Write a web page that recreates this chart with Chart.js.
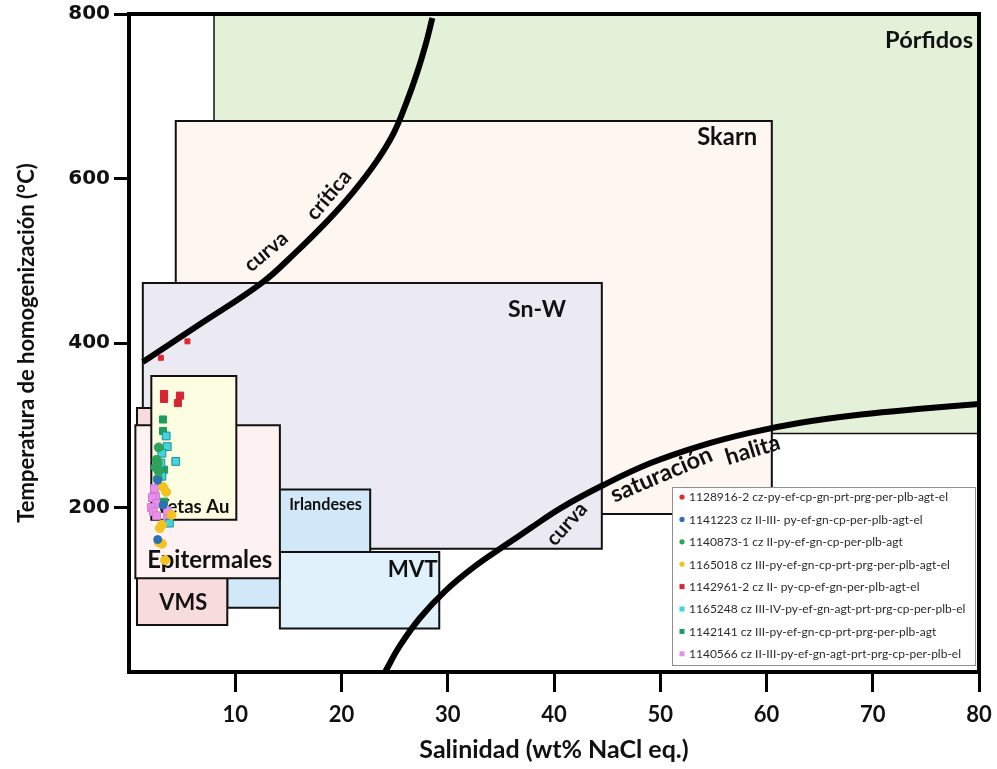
<!DOCTYPE html>
<html>
<head>
<meta charset="utf-8">
<script src="https://cdn.jsdelivr.net/npm/chart.js@4.4.1/dist/chart.umd.min.js"></script>
<style>
  html, body { margin: 0; padding: 0; background: #fff; }
  #wrap { width: 997px; height: 769px; }
</style>
</head>
<body>
<div id="wrap"><canvas id="chart" width="997" height="769"></canvas></div>
<script>
// ---- axis ticks ----
const xTickValues = [10, 20, 30, 40, 50, 60, 70, 80];
const yTickValues = [200, 400, 600, 800];

// ---- deposit fields: [salinity min, salinity max, Th min, Th max] ----
const fieldNames = ['Pórfidos', 'Skarn', 'Sn-W', 'Irlandeses', 'MVT', 'VMS', 'Epitermales', 'Vetas Au'];
const fieldBounds = [
  [8.0, 80, 290, 800],
  [4.4, 60.5, 192, 670],
  [1.3, 44.5, 150, 473],
  [9.25, 22.7, 78, 222],
  [14.2, 29.2, 53, 146],
  [0.75, 9.25, 57, 321],
  [0.6, 14.2, 114, 300],
  [2.1, 10.1, 185, 360]
];

// ---- reference curves ----
const criticaSal = [1.3, 6.7, 12.5, 15.6, 18.5, 21.0, 23.2, 24.9, 26.1, 27.1, 27.9, 28.55];
const criticaTh  = [377, 423, 473, 509, 546, 582, 619, 655, 692, 728, 762, 795];
const halitaSal  = [24.1, 25.5, 27.4, 29.8, 32.6, 35.4, 37.8, 40.6, 44.6, 49.1, 53.8, 58.5, 63.2, 68.9, 74.5, 80.2];
const halitaTh   = [0, 32, 66, 99, 129, 154, 175, 199, 227, 254, 275, 291, 303, 313, 320, 326];

// ---- fluid inclusion samples: [salinity, Th] ----
const seriesNames = [
  '1128916-2 cz-py-ef-cp-gn-prt-prg-per-plb-agt-el',
  '1141223 cz II-III- py-ef-gn-cp-per-plb-agt-el',
  '1140873-1 cz II-py-ef-gn-cp-per-plb-agt',
  '1165018 cz III-py-ef-gn-cp-prt-prg-per-plb-agt-el',
  '1142961-2 cz II- py-cp-ef-gn-per-plb-agt-el',
  '1165248 cz III-IV-py-ef-gn-agt-prt-prg-cp-per-plb-el',
  '1142141 cz III-py-ef-gn-cp-prt-prg-per-plb-agt',
  '1140566 cz II-III-py-ef-gn-agt-prt-prg-cp-per-plb-el'
];
const pts1128916 = [[3.0, 382], [5.5, 402]];
const pts1141223 = [[2.7, 233], [3.2, 203], [2.7, 161]];
const pts1140873 = [[2.8, 273], [2.6, 258], [2.7, 254], [2.5, 249], [2.8, 244], [2.7, 235]];
const pts1165018 = [[3.2, 225], [3.5, 219], [4.0, 191], [3.1, 179], [2.9, 175], [2.8, 158], [3.1, 156], [3.4, 136]];
const pts1142961 = [[3.3, 338], [3.3, 332], [4.8, 336], [4.6, 327]];
const pts1165248 = [[3.5, 287], [3.6, 274], [3.1, 266], [4.4, 256], [3.0, 254], [3.1, 238], [3.8, 181]];
const pts1142141 = [[3.2, 307], [3.2, 293], [3.3, 246], [3.3, 207]];
const pts1140566 = [[2.4, 223], [2.5, 213], [2.2, 212], [2.6, 205], [2.1, 200], [2.3, 195], [3.6, 196], [2.6, 190], [3.6, 186]];
const seriesPoints = [pts1128916, pts1141223, pts1140873, pts1165018, pts1142961, pts1165248, pts1142141, pts1140566];

// ---- styles ----
const fieldFill = ['#e3f1d9', '#fdf6f1', '#ebe9f2', '#d2e8f8', '#e0f1fb', '#f8dcdd', '#fdf1f1', '#fdfde2'];
const fieldLine = [1.5, 2, 2, 2, 2, 2, 2, 2];
const seriesStyle = [
  { shape: 'rect',   r: 3.5, fill: '#dc2a30', line: '#dc2a30', legend: 'circle' },
  { shape: 'circle', r: 4,   fill: '#2f70b4', line: '#2f70b4', legend: 'circle' },
  { shape: 'circle', r: 4.5, fill: '#2ea35c', line: '#2ea35c', legend: 'circle' },
  { shape: 'circle', r: 4.5, fill: '#f2c21e', line: '#f2c21e', legend: 'circle' },
  { shape: 'rect',   r: 5,   fill: '#d6262f', line: '#d6262f', legend: 'rect' },
  { shape: 'rect',   r: 5.5, fill: '#45d4dc', line: '#1d8f97', legend: 'rect' },
  { shape: 'rect',   r: 5,   fill: '#1e9b5d', line: '#1e9b5d', legend: 'rect' },
  { shape: 'rect',   r: 5.5, fill: '#e88fe9', line: '#d27ad6', legend: 'rect' }
];

// labels: text, salinity, Th, target width (px), rotation (deg)
const textLabels = [
  ['Pórfidos',    75.3, 768, 88, 0],
  ['Skarn',       56.3, 650, 60, 0],
  ['Sn-W',        38.4, 441, 58, 0],
  ['Irlandeses',  18.5, 203, 73, 0],
  ['MVT',         26.7, 124, 50, 0],
  ['VMS',          5.1,  84, 48, 0],
  ['Epitermales',  7.6, 136, 125, 0],
  ['Vetas Au',     6.0, 200, 73, 0],
  ['curva',       12.9, 511, 50, -40],
  ['crítica',     18.8, 580, 58, -50],
  ['curva',       41.2, 180, 50, -48],
  ['saturación',  50.1, 240, 108, -23],
  ['halita',      58.7, 270, 56, -17]
];

const toXY = (xs, ys) => xs.map((x, i) => ({ x: x, y: ys[i] }));
const pairsXY = p => p.map(v => ({ x: v[0], y: v[1] }));
const rectPath = b => [
  { x: b[0], y: b[2] }, { x: b[1], y: b[2] }, { x: b[1], y: b[3] },
  { x: b[0], y: b[3] }, { x: b[0], y: b[2] }
];

const datasets = [];
fieldNames.forEach((name, i) => {
  datasets.push({
    label: name,
    data: rectPath(fieldBounds[i]),
    fill: 'shape',
    backgroundColor: fieldFill[i],
    borderColor: '#111',
    borderWidth: fieldLine[i],
    borderJoinStyle: 'miter',
    borderCapStyle: 'square',
    pointRadius: 0,
    tension: 0,
    order: 100 - i
  });
});
[[criticaSal, criticaTh, 'curva crítica'], [halitaSal, halitaTh, 'curva saturación halita']].forEach(c => {
  datasets.push({
    label: c[2],
    data: toXY(c[0], c[1]),
    fill: false,
    borderColor: '#000',
    borderWidth: 6,
    pointRadius: 0,
    tension: 0.4,
    order: 5
  });
});
seriesNames.forEach((name, i) => {
  const s = seriesStyle[i];
  datasets.push({
    label: name,
    data: pairsXY(seriesPoints[i]),
    showLine: false,
    pointStyle: s.shape,
    pointRadius: s.r,
    pointBackgroundColor: s.fill,
    pointBorderColor: s.line,
    pointBorderWidth: 1,
    backgroundColor: s.fill,
    borderColor: s.line,
    order: 0
  });
});

function fitFont(ctx, text, width, weight) {
  ctx.font = weight + ' 20px Lato';
  const w = ctx.measureText(text).width;
  return 20 * width / w;
}

const overlay = {
  id: 'overlay',
  afterDatasetDraw(chart, args) {
    if (args.index !== fieldNames.length - 1) return;
    const ctx = chart.ctx;
    const xs = chart.scales.x, ys = chart.scales.y;
    ctx.save();
    ctx.fillStyle = '#111';
    ctx.textAlign = 'center';
    ctx.textBaseline = 'middle';
    textLabels.forEach(l => {
      const size = fitFont(ctx, l[0], l[3], 'bold');
      ctx.font = 'bold ' + size.toFixed(1) + 'px Lato';
      ctx.save();
      ctx.translate(xs.getPixelForValue(l[1]), ys.getPixelForValue(l[2]));
      ctx.rotate(l[4] * Math.PI / 180);
      ctx.fillText(l[0], 0, 0);
      ctx.restore();
    });
    ctx.restore();
  },
  afterDatasetsDraw(chart) {
    const ctx = chart.ctx;
    const a = chart.chartArea;
    ctx.save();
    // plot frame
    ctx.strokeStyle = '#000';
    ctx.lineWidth = 4;
    ctx.strokeRect(a.left, a.top, a.right - a.left, a.bottom - a.top);

    // sample legend
    const lx = 672, ly = 487, lw = 303, lh = 178, rowH = 22.4;
    ctx.fillStyle = '#fff';
    ctx.fillRect(lx, ly, lw, lh);
    ctx.strokeStyle = '#8f8f8f';
    ctx.lineWidth = 1;
    ctx.strokeRect(lx + 0.5, ly + 0.5, lw, lh);
    ctx.font = '12px Lato';
    ctx.textAlign = 'left';
    ctx.textBaseline = 'middle';
    seriesNames.forEach((name, i) => {
      const s = seriesStyle[i];
      const cy = ly + 10 + i * rowH;
      ctx.fillStyle = s.fill;
      if (s.legend === 'circle') {
        ctx.beginPath();
        ctx.arc(lx + 10, cy, 2.6, 0, Math.PI * 2);
        ctx.fill();
      } else {
        ctx.fillRect(lx + 7.5, cy - 2.5, 5, 5);
      }
      ctx.fillStyle = '#2b2b2b';
      ctx.fillText(name, lx + 17, cy + 0.5);
    });
    ctx.restore();
  }
};

new Chart(document.getElementById('chart'), {
  type: 'line',
  data: { datasets: datasets },
  plugins: [overlay],
  options: {
    responsive: false,
    animation: false,
    devicePixelRatio: 1,
    layout: { padding: { left: 0, right: 18, top: 14, bottom: 0 } },
    plugins: { legend: { display: false }, tooltip: { enabled: false } },
    scales: {
      x: {
        type: 'linear',
        min: 0, max: 80,
        afterBuildTicks: s => { s.ticks = xTickValues.map(v => ({ value: v })); },
        afterFit: s => { s.height = 97; s.paddingLeft = 0; s.paddingRight = 0; },
        grid: { drawOnChartArea: false, drawTicks: true, tickLength: 20, tickWidth: 3, tickColor: '#000' },
        border: { display: true, color: '#000', width: 4 },
        ticks: { color: '#111', padding: 10, font: { family: 'Lato', weight: 'bold', size: 22 }, maxRotation: 0 },
        title: { display: true, text: 'Salinidad (wt% NaCl eq.)', color: '#111', padding: { top: 0, bottom: 4 },
                 font: { family: 'Lato', weight: 'bold', size: 25 } }
      },
      y: {
        type: 'linear',
        min: 0, max: 800,
        afterBuildTicks: s => { s.ticks = yTickValues.map(v => ({ value: v })); },
        afterFit: s => { s.width = 129; s.paddingTop = 0; s.paddingBottom = 0; },
        grid: { drawOnChartArea: false, drawTicks: true, tickLength: 15, tickWidth: 3, tickColor: '#000' },
        border: { display: true, color: '#000', width: 4 },
        ticks: { color: '#111', padding: 4, font: { family: 'DejaVu Sans', weight: 'bold', size: 20 } },
        title: { display: true, text: 'Temperatura de homogenización (°C)', color: '#111', padding: { top: 14, bottom: 0 },
                 font: { family: 'Lato', weight: 'bold', size: 22 } }
      }
    }
  }
});
</script>
</body>
</html>
